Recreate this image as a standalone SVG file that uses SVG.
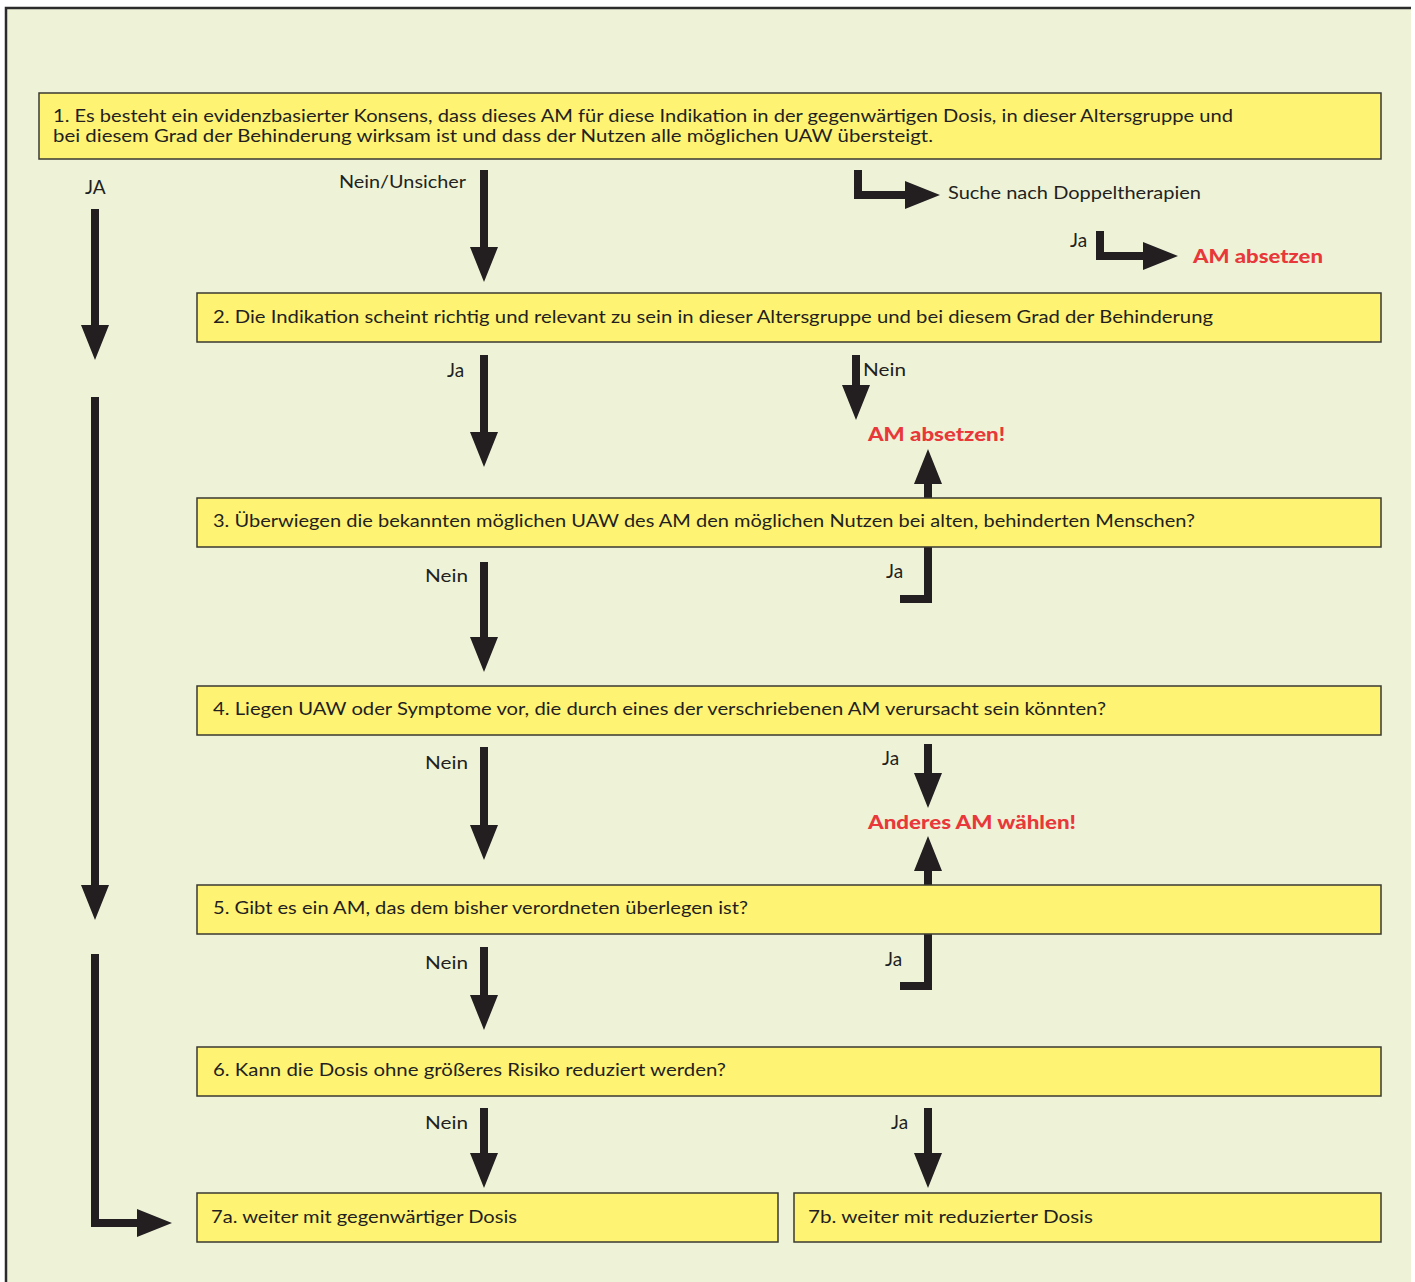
<svg xmlns="http://www.w3.org/2000/svg" width="1415" height="1282" viewBox="0 0 1415 1282">
<defs>
<marker id="head" markerUnits="userSpaceOnUse" markerWidth="36" markerHeight="28" refX="0" refY="14" orient="auto" overflow="visible">
<path d="M0,0 L35,14 L0,28 Z" fill="#231F20"/>
</marker>
<style>
.bg{fill:#EEF3D8}
.frame{stroke:#2B2B2B;stroke-width:2.5;fill:none}
.box{fill:#FFF374;stroke:#3A3A30;stroke-width:1.5}
.t{font-family:Lato,"Open Sans","Liberation Sans",sans-serif;font-size:17px;fill:#231F20}
.l{font-family:Lato,"Open Sans","Liberation Sans",sans-serif;font-size:18px;fill:#231F20}
.j{font-family:Lato,"Open Sans","Liberation Sans",sans-serif;font-size:19px;fill:#231F20}
.r{font-family:Lato,"Open Sans","Liberation Sans",sans-serif;font-size:19px;font-weight:900;fill:#E8383A}
.a{fill:none;stroke:#231F20;stroke-width:8;stroke-linejoin:miter;stroke-linecap:butt;marker-end:url(#head)}
</style>
</defs>
<rect x="0" y="0" width="1415" height="1282" fill="#FFFFFF"/>
<rect class="bg" x="6" y="8" width="1405" height="1274"/>
<path class="frame" d="M6,1282 V8 H1411"/>

<g id="connectors">
<path class="a" d="M95,209 V325"/>
<path class="a" d="M95,397 V885"/>
<path class="a" d="M95,954 V1223 H137"/>
<path class="a" d="M484,170 V247"/>
<path class="a" d="M484,355 V432"/>
<path class="a" d="M484,562 V637"/>
<path class="a" d="M484,747 V825"/>
<path class="a" d="M484,947 V995"/>
<path class="a" d="M484,1108 V1153"/>
<path class="a" d="M858,170 V195 H905"/>
<path class="a" d="M1100,231 V256 H1143"/>
<path class="a" d="M856,355 V385"/>
<path class="a" d="M900,599 H928 V484"/>
<path class="a" d="M928,744 V773"/>
<path class="a" d="M900,986 H928 V871"/>
<path class="a" d="M928,1108 V1153"/>
</g>

<g id="n1">
<rect class="box" x="39" y="93" width="1342" height="66"/>
<text class="t" x="53" y="122" textLength="1180" lengthAdjust="spacingAndGlyphs">1. Es besteht ein evidenzbasierter Konsens, dass dieses AM für diese Indikation in der gegenwärtigen Dosis, in dieser Altersgruppe und</text>
<text class="t" x="53" y="142" textLength="880" lengthAdjust="spacingAndGlyphs">bei diesem Grad der Behinderung wirksam ist und dass der Nutzen alle möglichen UAW übersteigt.</text>
</g>
<g id="n2">
<rect class="box" x="197" y="293" width="1184" height="49"/>
<text class="t" x="213" y="323" textLength="1000" lengthAdjust="spacingAndGlyphs">2. Die Indikation scheint richtig und relevant zu sein in dieser Altersgruppe und bei diesem Grad der Behinderung</text>
</g>
<g id="n3">
<rect class="box" x="197" y="498" width="1184" height="49"/>
<text class="t" x="213" y="527" textLength="982" lengthAdjust="spacingAndGlyphs">3. Überwiegen die bekannten möglichen UAW des AM den möglichen Nutzen bei alten, behinderten Menschen?</text>
</g>
<g id="n4">
<rect class="box" x="197" y="686" width="1184" height="49"/>
<text class="t" x="213" y="715" textLength="893" lengthAdjust="spacingAndGlyphs">4. Liegen UAW oder Symptome vor, die durch eines der verschriebenen AM verursacht sein könnten?</text>
</g>
<g id="n5">
<rect class="box" x="197" y="885" width="1184" height="49"/>
<text class="t" x="213" y="914" textLength="535" lengthAdjust="spacingAndGlyphs">5. Gibt es ein AM, das dem bisher verordneten überlegen ist?</text>
</g>
<g id="n6">
<rect class="box" x="197" y="1047" width="1184" height="49"/>
<text class="t" x="213" y="1076" textLength="513" lengthAdjust="spacingAndGlyphs">6. Kann die Dosis ohne größeres Risiko reduziert werden?</text>
</g>
<g id="n7a">
<rect class="box" x="197" y="1193" width="581" height="49"/>
<text class="t" x="211" y="1223" textLength="306" lengthAdjust="spacingAndGlyphs">7a. weiter mit gegenwärtiger Dosis</text>
</g>
<g id="n7b">
<rect class="box" x="794" y="1193" width="587" height="49"/>
<text class="t" x="808" y="1223" textLength="285" lengthAdjust="spacingAndGlyphs">7b. weiter mit reduzierter Dosis</text>
</g>
<g id="out-suche">
<text class="t" x="948" y="199" textLength="253" lengthAdjust="spacingAndGlyphs">Suche nach Doppeltherapien</text>
</g>
<g id="out-absetzen1">
<text class="r" x="1193" y="263" textLength="130" lengthAdjust="spacingAndGlyphs">AM absetzen</text>
</g>
<g id="out-absetzen2">
<text class="r" x="868" y="441" textLength="137" lengthAdjust="spacingAndGlyphs">AM absetzen!</text>
</g>
<g id="out-anderes">
<text class="r" x="868" y="829" textLength="208" lengthAdjust="spacingAndGlyphs">Anderes AM wählen!</text>
</g>

<g id="labels">
<text class="j" x="85" y="194">JA</text>
<text class="t" x="339" y="188" textLength="127" lengthAdjust="spacingAndGlyphs">Nein/Unsicher</text>
<text class="j" x="1070" y="247">Ja</text>
<text class="j" x="447" y="377">Ja</text>
<text class="l" x="863" y="376" textLength="43" lengthAdjust="spacingAndGlyphs">Nein</text>
<text class="l" x="425" y="582" textLength="43" lengthAdjust="spacingAndGlyphs">Nein</text>
<text class="j" x="886" y="578">Ja</text>
<text class="l" x="425" y="769" textLength="43" lengthAdjust="spacingAndGlyphs">Nein</text>
<text class="j" x="882" y="765">Ja</text>
<text class="l" x="425" y="969" textLength="43" lengthAdjust="spacingAndGlyphs">Nein</text>
<text class="j" x="885" y="966">Ja</text>
<text class="l" x="425" y="1129" textLength="43" lengthAdjust="spacingAndGlyphs">Nein</text>
<text class="j" x="891" y="1129">Ja</text>
</g>
</svg>
